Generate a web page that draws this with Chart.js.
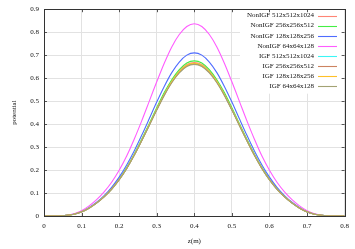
<!DOCTYPE html>
<html>
<head>
<meta charset="utf-8">
<script src="https://cdn.jsdelivr.net/npm/chart.js@4/dist/chart.umd.min.js"></script>
<style>
html,body{margin:0;padding:0;background:#fff;}
canvas{display:block;}
</style>
</head>
<body>
<canvas id="c" width="355" height="249"></canvas>
<script>
// x positions z(m)
const zValues = [0,0.02,0.04,0.06,0.08,0.10,0.12,0.14,0.16,0.18,0.20,0.22,0.24,0.26,0.28,0.30,0.32,0.34,0.36,0.38,0.40,0.42,0.44,0.46,0.48,0.50,0.52,0.54,0.56,0.58,0.60,0.62,0.64,0.66,0.68,0.70,0.72,0.74,0.76,0.78,0.80];

const seriesLabels = ["NonIGF 512x512x1024","NonIGF 256x256x512","NonIGF 128x128x256","NonIGF 64x64x128","IGF 512x512x1024","IGF 256x256x512","IGF 128x128x256","IGF 64x64x128"];

const nonIGF512 = [0,0,0,0.003,0.008,0.018,0.035,0.057,0.084,0.118,0.159,0.208,0.267,0.331,0.398,0.466,0.531,0.587,0.631,0.659,0.668,0.659,0.631,0.587,0.531,0.466,0.398,0.331,0.267,0.208,0.159,0.118,0.084,0.057,0.035,0.018,0.008,0.003,0,0,0];
const nonIGF256 = [0,0,0,0.003,0.008,0.018,0.035,0.057,0.085,0.119,0.161,0.211,0.269,0.334,0.402,0.471,0.537,0.593,0.637,0.666,0.675,0.666,0.637,0.593,0.537,0.471,0.402,0.334,0.269,0.211,0.161,0.119,0.085,0.057,0.035,0.018,0.008,0.003,0,0,0];
const nonIGF128 = [0,0,0,0.003,0.009,0.019,0.037,0.060,0.089,0.125,0.169,0.222,0.283,0.351,0.423,0.496,0.564,0.624,0.670,0.700,0.710,0.700,0.670,0.624,0.564,0.496,0.423,0.351,0.283,0.222,0.169,0.125,0.089,0.060,0.037,0.019,0.009,0.003,0,0,0];
const nonIGF64 = [0,0,0,0.003,0.010,0.023,0.044,0.071,0.105,0.147,0.199,0.261,0.334,0.414,0.499,0.584,0.665,0.736,0.790,0.825,0.837,0.825,0.790,0.736,0.665,0.584,0.499,0.414,0.334,0.261,0.199,0.147,0.105,0.071,0.044,0.023,0.010,0.003,0,0,0];
const igf512 = [0,0,0,0.003,0.008,0.018,0.035,0.056,0.084,0.117,0.158,0.207,0.265,0.329,0.396,0.463,0.528,0.584,0.627,0.655,0.664,0.655,0.627,0.584,0.528,0.463,0.396,0.329,0.265,0.207,0.158,0.117,0.084,0.056,0.035,0.018,0.008,0.003,0,0,0];
const igf256 = [0,0,0,0.003,0.008,0.018,0.034,0.056,0.083,0.117,0.158,0.207,0.264,0.328,0.395,0.462,0.526,0.582,0.625,0.653,0.662,0.653,0.625,0.582,0.526,0.462,0.395,0.328,0.264,0.207,0.158,0.117,0.083,0.056,0.034,0.018,0.008,0.003,0,0,0];
const igf128 = [0,0,0,0.003,0.008,0.018,0.035,0.057,0.084,0.117,0.158,0.207,0.265,0.329,0.396,0.464,0.529,0.585,0.628,0.656,0.665,0.656,0.628,0.585,0.529,0.464,0.396,0.329,0.265,0.207,0.158,0.117,0.084,0.057,0.035,0.018,0.008,0.003,0,0,0];
const igf64 = [0,0,0,0.003,0.008,0.018,0.034,0.056,0.083,0.116,0.157,0.206,0.263,0.327,0.393,0.461,0.525,0.580,0.623,0.651,0.660,0.651,0.623,0.580,0.525,0.461,0.393,0.327,0.263,0.206,0.157,0.116,0.083,0.056,0.034,0.018,0.008,0.003,0,0,0];

const xTicks = [0,0.1,0.2,0.3,0.4,0.5,0.6,0.7,0.8];
const yTicks = [0,0.1,0.2,0.3,0.4,0.5,0.6,0.7,0.8,0.9];

const seriesData = [nonIGF512,nonIGF256,nonIGF128,nonIGF64,igf512,igf256,igf128,igf64];
const seriesColors = ['#ff8575','#44ee44','#4f6cff','#ff5cff','#3cf5f5','#cc8360','#ffc028','#a3a274'];

const FONT = {family:"'Liberation Serif','DejaVu Serif',serif", size:7};

const datasets = seriesLabels.map((lab,i)=>({
  label: lab,
  data: zValues.map((z,j)=>({x:z,y:seriesData[i][j]})),
  borderColor: seriesColors[i],
  backgroundColor: seriesColors[i],
  borderWidth: 1.1,
  pointRadius: 0,
  fill: false,
  tension: 0.3,
  order: seriesLabels.length - i
}));

const framePlugin = {
  id:'frame',
  afterDatasetsDraw(chart){
    const ctx = chart.ctx;
    const a = chart.chartArea;
    // legend (opaque key box)
    ctx.save();
    ctx.fillStyle = '#fff';
    ctx.fillRect(240, a.top+0.5, a.right-240-0.5, 84);
    ctx.font = FONT.size + "px " + FONT.family;
    ctx.textAlign = 'right';
    ctx.textBaseline = 'middle';
    chart.data.datasets.forEach((ds,i)=>{
      const y = 15.5 + i*10.1;
      ctx.fillStyle = '#111';
      ctx.fillText(ds.label, 314, y);
      ctx.strokeStyle = ds.borderColor;
      ctx.lineWidth = 1.1;
      ctx.beginPath();
      ctx.moveTo(318, Math.round(y)+0.5);
      ctx.lineTo(337, Math.round(y)+0.5);
      ctx.stroke();
    });
    // inward tick marks
    const xs = chart.scales.x, ys = chart.scales.y;
    ctx.strokeStyle = '#555';
    ctx.lineWidth = 1;
    ctx.beginPath();
    xTicks.forEach(v=>{
      const px = Math.round(xs.getPixelForValue(v))+0.5;
      ctx.moveTo(px, a.bottom); ctx.lineTo(px, a.bottom-3);
      ctx.moveTo(px, a.top); ctx.lineTo(px, a.top+3);
    });
    yTicks.forEach(v=>{
      const py = Math.round(ys.getPixelForValue(v))+0.5;
      ctx.moveTo(a.left, py); ctx.lineTo(a.left+3, py);
      ctx.moveTo(a.right, py); ctx.lineTo(a.right-3, py);
    });
    ctx.stroke();
    // border
    ctx.strokeStyle = '#333';
    ctx.lineWidth = 1;
    ctx.strokeRect(Math.round(a.left)+0.5, Math.round(a.top)+0.5, Math.round(a.right-a.left), Math.round(a.bottom-a.top));
    ctx.restore();
  }
};

new Chart(document.getElementById('c'), {
  type: 'line',
  data: { datasets },
  options: {
    responsive: false,
    animation: false,
    layout: { padding: { left: 0, right: 10, top: 7, bottom: 0 } },
    plugins: { legend: { display: false }, tooltip: { enabled: false } },
    scales: {
      x: {
        type: 'linear',
        min: 0, max: 0.8,
        afterFit(s){ s.height = 33; },
        afterBuildTicks(s){ s.ticks = xTicks.map(v=>({value:v})); },
        grid: { color: '#e2e2e2', drawTicks: false, lineWidth: 1 },
        border: { display: false },
        ticks: { font: FONT, color: '#111', padding: 6, maxRotation: 0,
                 callback: v => String(v) },
        title: { display: true, text: 'z(m)', font: FONT, color: '#111', padding: { top: 0, bottom: 4 } }
      },
      y: {
        type: 'linear',
        min: 0, max: 0.9,
        afterFit(s){ s.width = 44; },
        afterBuildTicks(s){ s.ticks = yTicks.map(v=>({value:v})); },
        grid: { color: '#e2e2e2', drawTicks: false, lineWidth: 1 },
        border: { display: false },
        ticks: { font: FONT, color: '#111', padding: 5,
                 callback: v => String(v) },
        title: { display: true, text: 'potential', font: FONT, color: '#111', padding: { top: 10, bottom: 0 } }
      }
    }
  },
  plugins: [framePlugin]
});
</script>
</body>
</html>
